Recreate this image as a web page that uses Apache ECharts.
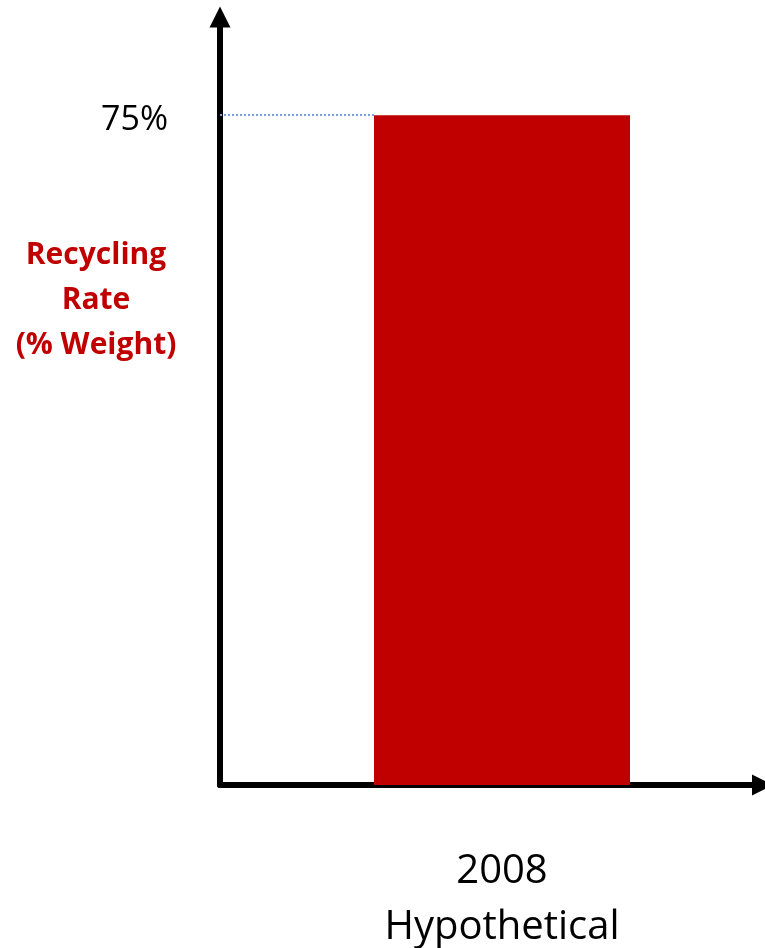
<!DOCTYPE html>
<html>
<head>
<meta charset="utf-8">
<script src="https://cdn.jsdelivr.net/npm/echarts@6/dist/echarts.min.js"></script>
<style>
  html, body { margin: 0; padding: 0; background: #fff; }
  #chart { width: 765px; height: 948px; }
</style>
</head>
<body>
<div id="chart"></div>
<script>
// Recycling rate, single hypothetical year
const categories = ['2008\nHypothetical'];
const recyclingRate = [75];
const yTickValues = [75];
const yAxisTitle = 'Recycling\nRate\n(% Weight)';

const RED = '#C00000';
const FONT = '"Open Sans", "Liberation Sans", sans-serif';

const chart = echarts.init(document.getElementById('chart'), null, { renderer: 'canvas' });

chart.setOption({
  backgroundColor: '#ffffff',
  animation: false,
  title: {
    text: yAxisTitle,
    left: 96,
    top: 233,
    padding: 0,
    textAlign: 'center',
    textStyle: {
      color: RED,
      fontFamily: FONT,
      fontWeight: 'bold',
      fontSize: 30,
      lineHeight: 45
    }
  },
  grid: [
    // plotting area for the bar and the value axis
    { left: 220, right: -19, top: 17, bottom: 163, outerBoundsMode: 'none', containLabel: false },
    // horizontal axis line with its arrow
    { left: 220, right: 2.5, top: 17, bottom: 163, outerBoundsMode: 'none', containLabel: false }
  ],
  xAxis: [
    {
      gridIndex: 0,
      type: 'category',
      data: categories,
      axisLine: { show: false },
      axisTick: { show: false },
      splitLine: { show: false },
      axisLabel: {
        color: '#000',
        fontFamily: FONT,
        fontSize: 40,
        lineHeight: 56,
        margin: 59,
        interval: 0
      }
    },
    {
      gridIndex: 1,
      type: 'value',
      min: 0,
      max: 1,
      axisLine: {
        show: true,
        symbol: ['none', 'triangle'],
        symbolSize: [21, 21],
        lineStyle: { color: '#000', width: 6 }
      },
      axisTick: { show: false },
      axisLabel: { show: false },
      splitLine: { show: false }
    }
  ],
  yAxis: [
    {
      gridIndex: 0,
      type: 'value',
      min: 0,
      max: 86,
      axisLine: {
        show: true,
        symbol: ['none', 'triangle'],
        symbolSize: [21, 21],
        lineStyle: { color: '#000', width: 6 }
      },
      axisTick: {
        show: true,
        customValues: yTickValues,
        inside: true,
        length: 154,
        lineStyle: { color: '#7F9FD8', width: 2, type: [2, 2] }
      },
      axisLabel: {
        show: true,
        customValues: yTickValues,
        formatter: '{value}%',
        color: '#000',
        fontFamily: FONT,
        fontSize: 34,
        lineHeight: 10,
        verticalAlign: 'top',
        margin: 52
      },
      splitLine: { show: false }
    },
    {
      gridIndex: 1,
      type: 'value',
      min: 0,
      max: 1,
      show: false
    }
  ],
  series: [
    {
      type: 'bar',
      xAxisIndex: 0,
      yAxisIndex: 0,
      data: recyclingRate,
      barWidth: 256,
      itemStyle: { color: RED },
      z: 3
    }
  ]
});
</script>
</body>
</html>
